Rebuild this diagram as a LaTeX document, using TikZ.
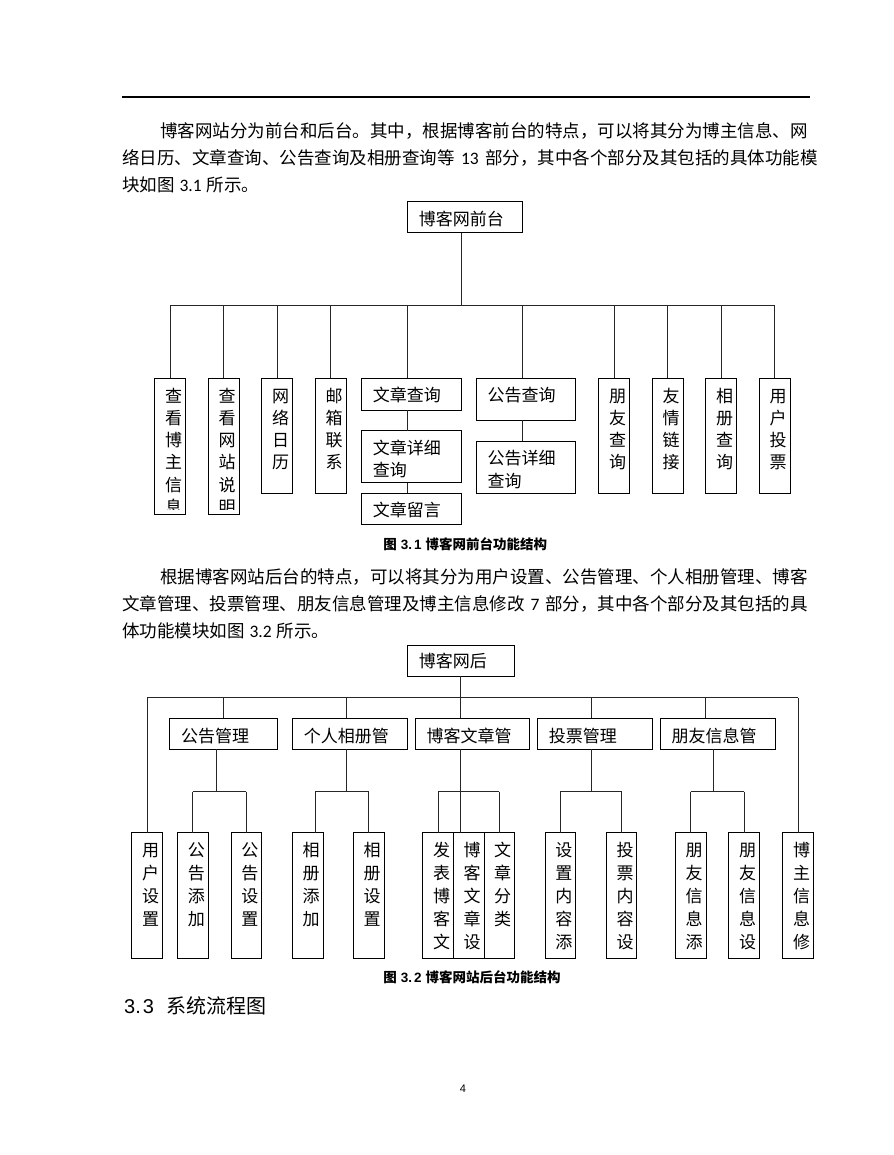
\documentclass[tikz,border=0pt]{standalone}
\usepackage{fontspec}
\setmainfont{Noto Sans CJK SC}
\newfontfamily\lat{Carlito}
\newfontfamily\arl{Liberation Sans}
\XeTeXlinebreaklocale "zh"
\XeTeXlinebreakskip=0pt plus 3pt
\tikzset{
  bxs/.style={draw=black, line width=0.9pt, inner sep=0pt, outer sep=0pt, anchor=north west},
  lbl/.style={inner sep=0pt, outer sep=0pt, font=\fontsize{17}{22}\selectfont},
  conn/.style={draw=black!85, line width=0.8pt},
  body/.style={inner sep=0pt, outer sep=0pt, anchor=base west, font=\fontsize{17.5}{27}\selectfont},
  capt/.style={inner sep=0pt, outer sep=0pt, anchor=base west, font=\fontsize{13.5}{16}\selectfont\bfseries},
}
\newcommand\mybox[5]{\node[bxs, minimum width={#4-#2}, minimum height={#5-#3}] (#1) at (#2,#3) {};}
\newcommand\htx[4]{\node[lbl, anchor=base west] (#1) at ([shift={(11.5,#3)}]#2.north west) {#4};}
\newcommand\vtx[3]{%
  \foreach \c [count=\i] in {#2} {\node[lbl, anchor=base] (#1-\i) at ([shift={(3.5,{24+#3*(\i-1)})}]#1.north) {\c};}}
\begin{document}
\begin{tikzpicture}[x=1pt, y=-1pt]
\fill[white] (0,0) rectangle (893,1155);
\useasboundingbox (0,0) rectangle (893,1155);

% header rule
\coordinate (rl) at (122,96.7);
\coordinate (rr) at (810,96.7);
\draw[line width=2pt] (rl) -- (rr);

% paragraph 1
\node[body] (p1a) at (160,137.5) {\makebox[648pt][s]{博客网站分为前台和后台。其中，根据博客前台的特点，可以将其分为博主信息、网}};
\node[body] (p1b) at (122,164.8) {\makebox[686pt][s]{络日历、文章查询、公告查询及相册查询等\hspace{6.5pt}{\lat 13}\hspace{6.5pt}部分，其中各个部分及其包括的具体功能模}};
\node[body] (p1c) at (122,192) {块如图\hspace{5pt}{\lat 3.1}\hspace{5pt}所示。};

% ===== Figure 3.1 =====
\mybox{root}{407.3}{201.7}{522.3}{232.7}
\htx{roott}{root}{23.5}{博客网前台}

\mybox{b1}{154.3}{378.3}{185.7}{514}
\mybox{b2}{208}{378.3}{239}{514}
\mybox{b3}{261.7}{378.3}{292.7}{493.3}
\mybox{b4}{315.3}{378.3}{346}{493.3}
\mybox{wz}{361.3}{378.3}{461}{410}
\mybox{wzx}{361.3}{430.7}{461}{482.7}
\mybox{wzl}{361.3}{493.3}{461}{524.3}
\mybox{gg}{476}{378.3}{575.7}{420}
\mybox{ggx}{476}{441}{575.7}{493.3}
\mybox{b9}{598.7}{378.3}{629.3}{493.3}
\mybox{b10}{652.3}{378.3}{683}{493.3}
\mybox{b11}{705.7}{378.3}{736.3}{493.3}
\mybox{b12}{759.3}{378.3}{790}{493.3}

\begin{scope}
  \clip ([shift={(0.6,0)}]b1.north west) rectangle ([shift={(-0.6,-5)}]b1.south east);
  \vtx{b1}{查,看,博,主,信,息}{22.2}
\end{scope}
\begin{scope}
  \clip ([shift={(0.6,0)}]b2.north west) rectangle ([shift={(-0.6,-5)}]b2.south east);
  \vtx{b2}{查,看,网,站,说,明}{22.2}
\end{scope}
\vtx{b3}{网,络,日,历}{22.2}
\vtx{b4}{邮,箱,联,系}{22.2}
\vtx{b9}{朋,友,查,询}{22.2}
\vtx{b10}{友,情,链,接}{22.2}
\vtx{b11}{相,册,查,询}{22.2}
\vtx{b12}{用,户,投,票}{22.2}
\htx{wzt}{wz}{23.5}{文章查询}
\htx{wzxt}{wzx}{23.5}{文章详细}
\htx{wzxu}{wzx}{45.5}{查询}
\htx{wzlt}{wzl}{23.5}{文章留言}
\htx{ggt}{gg}{23.5}{公告查询}
\htx{ggxt}{ggx}{23.5}{公告详细}
\htx{ggxu}{ggx}{46.5}{查询}

\coordinate (bus) at (461,305.7);
\coordinate (wzd) at (407.3,305.7);
\coordinate (ggd) at (522.3,305.7);
\draw[conn] (root.south -| bus) -- (bus);
\draw[conn] (b1.north |- bus) -- (b12.north |- bus);
\foreach \b in {b1,b2,b3,b4,b9,b10,b11,b12} {\draw[conn] (\b.north |- bus) -- (\b.north);}
\draw[conn] (wzd) -- (wzd |- wz.north);
\draw[conn] (wzd |- wz.south) -- (wzd |- wzx.north);
\draw[conn] (wzd |- wzx.south) -- (wzd |- wzl.north);
\draw[conn] (ggd) -- (ggd |- gg.north);
\draw[conn] (ggd |- gg.south) -- (ggd |- ggx.north);

\node[capt] (cap1) at (383.3,549.8) {图\hspace{4pt}{\arl 3.\hspace{2pt}1}\hspace{4pt}博客网前台功能结构};

% paragraph 2
\node[body] (p2a) at (160,583.5) {\makebox[648pt][s]{根据博客网站后台的特点，可以将其分为用户设置、公告管理、个人相册管理、博客}};
\node[body] (p2b) at (122,610.5) {\makebox[686pt][s]{文章管理、投票管理、朋友信息管理及博主信息修改\hspace{6pt}{\lat 7}\hspace{6pt}部分，其中各个部分及其包括的具}};
\node[body] (p2c) at (122,637.5) {体功能模块如图\hspace{5pt}{\lat 3.2}\hspace{5pt}所示。};

% ===== Figure 3.2 =====
\mybox{root2}{407.3}{645}{514.3}{676}
\htx{root2t}{root2}{22.5}{博客网后}

\mybox{m1}{169.7}{718.3}{277}{749.3}
\mybox{m2}{292.3}{718.3}{407.3}{749.3}
\mybox{m3}{415}{718.3}{529.3}{749.3}
\mybox{m4}{537.3}{718.3}{652.3}{749.3}
\mybox{m5}{660}{718.3}{775}{749.3}
\htx{m1t}{m1}{24}{公告管理}
\htx{m2t}{m2}{24}{个人相册管}
\htx{m3t}{m3}{24}{博客文章管}
\htx{m4t}{m4}{24}{投票管理}
\htx{m5t}{m5}{24}{朋友信息管}

\mybox{u}{131.7}{832.7}{162.3}{958.3}
\mybox{l1}{177.3}{832.7}{208.3}{958.3}
\mybox{l2}{231}{832.7}{261.7}{958.3}
\mybox{l3}{292.3}{832.7}{323}{958.3}
\mybox{l4}{353.3}{832.7}{384}{958.3}
\mybox{l5}{422.7}{832.7}{453.3}{958.3}
\mybox{l6}{453.3}{832.7}{484}{958.3}
\mybox{l7}{484}{832.7}{514.3}{958.3}
\mybox{l8}{545}{832.7}{575.7}{958.3}
\mybox{l9}{606.3}{832.7}{636.7}{958.3}
\mybox{l10}{675.3}{832.7}{706}{958.3}
\mybox{l11}{728.7}{832.7}{759.3}{958.3}
\mybox{bz}{782.7}{832.7}{813.3}{958.3}

\vtx{u}{用,户,设,置}{22.9}
\vtx{l1}{公,告,添,加}{22.9}
\vtx{l2}{公,告,设,置}{22.9}
\vtx{l3}{相,册,添,加}{22.9}
\vtx{l4}{相,册,设,置}{22.9}
\vtx{l5}{发,表,博,客,文}{22.9}
\vtx{l6}{博,客,文,章,设}{22.9}
\vtx{l7}{文,章,分,类}{22.9}
\vtx{l8}{设,置,内,容,添}{22.9}
\vtx{l9}{投,票,内,容,设}{22.9}
\vtx{l10}{朋,友,信,息,添}{22.9}
\vtx{l11}{朋,友,信,息,设}{22.9}
\vtx{bz}{博,主,信,息,修}{22.9}

\coordinate (bus2) at (460.7,697.7);
\draw[conn] (root2.south -| bus2) -- (bus2);
\draw[conn] (u.north |- bus2) -- (bz.north |- bus2);
\draw[conn] (u.north |- bus2) -- (u.north);
\draw[conn] (bz.north |- bus2) -- (bz.north);
\draw[conn] (m1.north |- bus2) -- (m1.north);
\coordinate (d2) at (346,697.7);
\coordinate (d4) at (591,697.7);
\coordinate (d5) at (705.7,697.7);
\draw[conn] (d2) -- (d2 |- m2.north);
\draw[conn] (bus2) -- (bus2 |- m3.north);
\draw[conn] (d4) -- (d4 |- m4.north);
\draw[conn] (d5) -- (d5 |- m5.north);

% sub-buses
\coordinate (s1) at (216,791.7);
\coordinate (s2) at (346,791.7);
\coordinate (s3) at (460.7,791.7);
\coordinate (s4) at (591,791.7);
\coordinate (s5) at (713.3,791.7);
\draw[conn] (s1 |- m1.south) -- (s1);
\draw[conn] (l1.north |- s1) -- (l2.north |- s1);
\draw[conn] (l1.north |- s1) -- (l1.north);
\draw[conn] (l2.north |- s1) -- (l2.north);

\coordinate (s2l) at (315.3,791.7);
\draw[conn] (s2 |- m2.south) -- (s2);
\draw[conn] (s2l) -- (l4.north |- s2);
\draw[conn] (s2l) -- (s2l |- l3.north);
\draw[conn] (l4.north |- s2) -- (l4.north);

\draw[conn] (s3 |- m3.south) -- (s3);
\draw[conn] (l5.north |- s3) -- (l7.north |- s3);
\draw[conn] (l5.north |- s3) -- (l5.north);
\draw[conn] (s3) -- (s3 |- l6.north);
\draw[conn] (l7.north |- s3) -- (l7.north);

\draw[conn] (s4 |- m4.south) -- (s4);
\draw[conn] (l8.north |- s4) -- (l9.north |- s4);
\draw[conn] (l8.north |- s4) -- (l8.north);
\draw[conn] (l9.north |- s4) -- (l9.north);

\draw[conn] (s5 |- m5.south) -- (s5);
\draw[conn] (l10.north |- s5) -- (l11.north |- s5);
\draw[conn] (l10.north |- s5) -- (l10.north);
\draw[conn] (l11.north |- s5) -- (l11.north);

\node[capt] (cap2) at (383.3,982.5) {图\hspace{4pt}{\arl 3.\hspace{2pt}2}\hspace{4pt}博客网站后台功能结构};

% heading and page number
\node[inner sep=0pt, anchor=base west, font=\fontsize{20}{24}\selectfont] (head) at (124,1013.5) {{\arl 3.\hspace{2pt}3}\hspace{12pt}系统流程图};
\node[inner sep=0pt, anchor=base, font=\arl\fontsize{11}{13}\selectfont] (pnum) at (463,1092.6) {4};
\end{tikzpicture}
\end{document}
